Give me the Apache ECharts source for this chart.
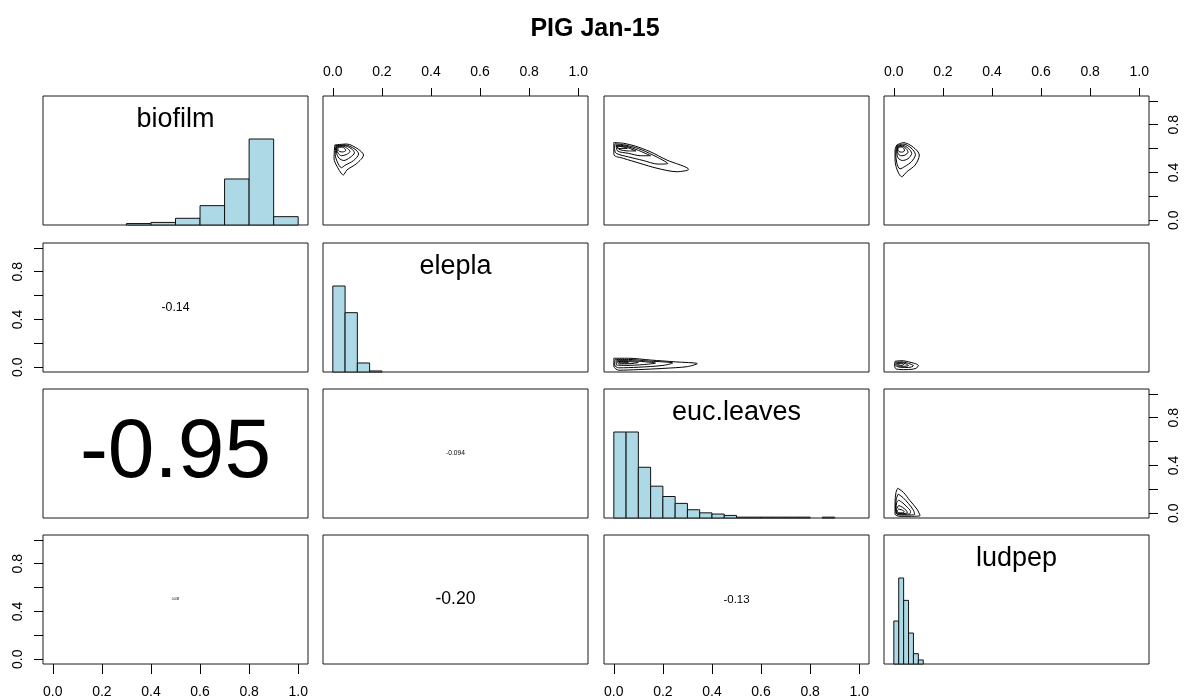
<!DOCTYPE html>
<html>
<head>
<meta charset="utf-8">
<title>PIG Jan-15</title>
<script src="https://cdn.jsdelivr.net/npm/echarts@6/dist/echarts.min.js"></script>
<style>
	html, body { margin: 0; padding: 0; background: #fff; }
	#pairs { width: 1190px; height: 700px; }
</style>
</head>
<body>
<div id="pairs"></div>
<script>
var varNames = ['biofilm', 'elepla', 'euc.leaves', 'ludpep'];
var axisTicks = [0, 0.2, 0.4, 0.6, 0.8, 1.0];
var xTickLabels = [0, 0.2, 0.4, 0.6, 0.8, 1.0];
var yTickLabels = [0, 0.4, 0.8];

// diagonal histograms: breaks and bar heights scaled so the tallest bar = 1
var biofilmBreaks = [0.3, 0.4, 0.5, 0.6, 0.7, 0.8, 0.9, 1.0];
var biofilmHeights = [0.017, 0.03, 0.078, 0.225, 0.535, 1.0, 0.097];
var eleplaBreaks = [0, 0.05, 0.1, 0.15, 0.2];
var eleplaHeights = [1.0, 0.69, 0.105, 0.012];
var eucBreaks = [0, 0.05, 0.1, 0.15, 0.2, 0.25, 0.3, 0.35, 0.4, 0.45, 0.5, 0.55, 0.6, 0.65, 0.7, 0.75, 0.8, 0.85, 0.9];
var eucHeights = [1.0, 1.0, 0.59, 0.37, 0.25, 0.17, 0.096, 0.06, 0.046, 0.03, 0.01, 0.01, 0.01, 0.01, 0.01, 0.01, 0, 0.01];
var ludpepBreaks = [0, 0.02, 0.04, 0.06, 0.08, 0.10, 0.12];
var ludpepHeights = [0.5, 1.0, 0.74, 0.36, 0.12, 0.047];

// lower panels: correlations (row, col order)
var corrLabels = ['-0.14', '-0.95', '-0.094', '0.038', '-0.20', '-0.13'];
var corrValues = [-0.14, -0.95, -0.094, 0.038, -0.20, -0.13];

// upper panels: density contour rings [x, y]
var eleplaBiofilm = [
	[[0.008,0.63],[0.057,0.638],[0.104,0.594],[0.125,0.546],[0.098,0.476],[0.057,0.42],[0.043,0.379],[0.018,0.448],[0.005,0.518]],
	[[0.012,0.625],[0.05,0.63],[0.09,0.595],[0.105,0.555],[0.085,0.5],[0.05,0.46],[0.035,0.44],[0.018,0.49],[0.01,0.55]],
	[[0.015,0.62],[0.045,0.625],[0.075,0.6],[0.088,0.565],[0.07,0.525],[0.045,0.5],[0.025,0.52],[0.015,0.57]],
	[[0.018,0.615],[0.04,0.62],[0.06,0.6],[0.07,0.575],[0.055,0.55],[0.035,0.54],[0.022,0.56],[0.017,0.59]],
	[[0.022,0.61],[0.038,0.612],[0.05,0.597],[0.052,0.582],[0.04,0.572],[0.028,0.575],[0.021,0.59]]
];
var eucBiofilm = [
	[[0,0.65],[0.039,0.644],[0.087,0.621],[0.148,0.574],[0.216,0.504],[0.305,0.426],[0.257,0.406],[0.176,0.435],[0.107,0.476],[0.039,0.518],[0.001,0.546],[0,0.602]],
	[[0.005,0.64],[0.045,0.63],[0.1,0.6],[0.16,0.545],[0.22,0.475],[0.18,0.47],[0.12,0.5],[0.06,0.53],[0.01,0.56],[0.003,0.6]],
	[[0.01,0.63],[0.05,0.62],[0.1,0.585],[0.15,0.54],[0.11,0.54],[0.06,0.56],[0.015,0.58]],
	[[0.012,0.625],[0.05,0.612],[0.09,0.58],[0.06,0.58],[0.02,0.595]],
	[[0.015,0.62],[0.04,0.612],[0.055,0.6],[0.03,0.6],[0.015,0.607]]
];
var ludpepBiofilm = [
	[[0.012,0.63],[0.039,0.65],[0.08,0.61],[0.104,0.546],[0.087,0.462],[0.053,0.406],[0.032,0.364],[0.014,0.42],[0.005,0.504],[0.005,0.588]],
	[[0.012,0.625],[0.038,0.638],[0.07,0.605],[0.088,0.55],[0.072,0.49],[0.045,0.45],[0.025,0.43],[0.012,0.48],[0.008,0.56]],
	[[0.014,0.62],[0.036,0.628],[0.06,0.6],[0.073,0.56],[0.058,0.515],[0.035,0.5],[0.018,0.52],[0.012,0.57]],
	[[0.016,0.615],[0.034,0.62],[0.05,0.6],[0.058,0.57],[0.045,0.545],[0.028,0.54],[0.017,0.56],[0.014,0.59]],
	[[0.018,0.61],[0.032,0.613],[0.042,0.598],[0.043,0.58],[0.032,0.57],[0.021,0.575],[0.017,0.59]]
];
var eucElepla = [
	[[0,0.075],[0.06,0.075],[0.15,0.06],[0.25,0.045],[0.34,0.03],[0.3,0.005],[0.2,-0.01],[0.1,-0.02],[0.02,-0.025],[0,0.01]],
	[[0.005,0.065],[0.06,0.065],[0.14,0.052],[0.24,0.035],[0.2,0.015],[0.1,0.0],[0.02,-0.005],[0.003,0.02]],
	[[0.01,0.055],[0.06,0.055],[0.13,0.045],[0.17,0.035],[0.12,0.022],[0.05,0.015],[0.01,0.02]],
	[[0.015,0.048],[0.06,0.047],[0.1,0.04],[0.07,0.03],[0.02,0.028]],
	[[0.02,0.043],[0.05,0.042],[0.06,0.037],[0.03,0.034]]
];
var ludpepElepla = [
	[[0.005,0.05],[0.03,0.055],[0.07,0.04],[0.1,0.015],[0.09,-0.01],[0.05,-0.02],[0.01,-0.015],[0.003,0.02]],
	[[0.008,0.042],[0.03,0.045],[0.06,0.032],[0.08,0.012],[0.06,-0.002],[0.025,0.0],[0.008,0.015]],
	[[0.012,0.036],[0.03,0.038],[0.05,0.027],[0.06,0.014],[0.04,0.008],[0.015,0.012]],
	[[0.016,0.032],[0.03,0.033],[0.04,0.024],[0.035,0.016],[0.018,0.02]]
];
var ludpepEuc = [
	[[0.016,0.21],[0.039,0.175],[0.066,0.105],[0.094,0.035],[0.107,-0.02],[0.066,-0.026],[0.025,-0.026],[0.005,-0.007],[0.005,0.09],[0.009,0.175]],
	[[0.018,0.16],[0.038,0.13],[0.06,0.08],[0.08,0.025],[0.085,-0.01],[0.05,-0.015],[0.015,-0.012],[0.007,0.04],[0.01,0.12]],
	[[0.02,0.11],[0.037,0.085],[0.055,0.05],[0.068,0.015],[0.065,-0.005],[0.035,-0.008],[0.012,-0.005],[0.009,0.04],[0.012,0.09]],
	[[0.02,0.065],[0.035,0.05],[0.05,0.025],[0.055,0.005],[0.035,-0.003],[0.015,0.0],[0.011,0.03]],
	[[0.02,0.035],[0.033,0.027],[0.043,0.012],[0.035,0.003],[0.018,0.004],[0.014,0.02]]
];

var histBreaks = [biofilmBreaks, eleplaBreaks, eucBreaks, ludpepBreaks];
var histHeights = [biofilmHeights, eleplaHeights, eucHeights, ludpepHeights];
var contours = {'0-1': eleplaBiofilm, '0-2': eucBiofilm, '0-3': ludpepBiofilm, '1-2': eucElepla, '1-3': ludpepElepla, '2-3': ludpepEuc};

var font = 'Liberation Sans, Arial, sans-serif';
var colLeft = [43, 323, 604, 884];
var rowTop = [96, 243, 389, 535];
var panelW = 265, panelH = 129;
var unitPx = panelW / 1.08;

// R-style cex for correlation text: width proportional to |r|
var ctx = document.createElement('canvas').getContext('2d');
ctx.font = '100px ' + font;
function corrFontSize(txt, r) {
	var w = ctx.measureText(txt).width / 100;
	return 0.82 * Math.abs(r) * unitPx / w;
}

function fmt(v) { return v.toFixed(1); }

var grids = [], xAxes = [], yAxes = [], series = [];
var corrIdx = 0;

for (var r = 0; r < 4; r++) {
	for (var c = 0; c < 4; c++) {
		var i = r * 4 + c;
		var diag = r === c;
		var xTop = r === 0 && c % 2 === 1;
		var xBottom = r === 3 && c % 2 === 0;
		var yLeft = c === 0 && r % 2 === 1;
		var yRight = c === 3 && r % 2 === 0;

		grids.push({
			left: colLeft[c], top: rowTop[r], width: panelW, height: panelH,
			show: true, borderColor: '#1a1a1a', borderWidth: 1,
			outerBoundsMode: 'none'
		});
		xAxes.push({
			gridIndex: i, type: 'value', position: r === 0 ? 'top' : 'bottom',
			min: -0.04, max: 1.04,
			axisLine: {show: false, onZero: false},
			splitLine: {show: false},
			axisTick: {show: xTop || xBottom, length: xTop ? 8 : 10, customValues: axisTicks, lineStyle: {color: '#000', width: 1}},
			axisLabel: {show: xTop || xBottom, customValues: xTickLabels, formatter: fmt, fontSize: 14, color: '#000', fontFamily: font, margin: xTop ? 17 : 21}
		});
		yAxes.push({
			gridIndex: i, type: 'value', position: c === 0 ? 'left' : 'right',
			min: diag ? 0 : -0.04, max: diag ? 1.5 : 1.04,
			axisLine: {show: false, onZero: false},
			splitLine: {show: false},
			axisTick: {show: yLeft || yRight, length: 9, customValues: axisTicks, lineStyle: {color: '#000', width: 1}},
			axisLabel: {show: yLeft || yRight, customValues: yTickLabels, formatter: fmt, rotate: 90, fontSize: 14, color: '#000', fontFamily: font, margin: 18}
		});

		if (diag) {
			var b = histBreaks[r], h = histHeights[r], bars = [];
			for (var k = 0; k < h.length; k++) {
				if (h[k] > 0) bars.push([b[k], b[k + 1], h[k]]);
			}
			series.push({
				type: 'custom', xAxisIndex: i, yAxisIndex: i,
				data: bars,
				encode: {x: [0, 1], y: 2},
				renderItem: function (params, api) {
					var p0 = api.coord([api.value(0), 0]);
					var p1 = api.coord([api.value(1), api.value(2)]);
					return {
						type: 'rect',
						shape: {x: p0[0], y: p1[1], width: p1[0] - p0[0], height: p0[1] - p1[1]},
						style: {fill: '#ADD8E6', stroke: '#111', lineWidth: 1}
					};
				}
			});
			series.push({
				type: 'scatter', xAxisIndex: i, yAxisIndex: i,
				data: [[0.5, 1.23]], symbolSize: 1, itemStyle: {color: 'rgba(0,0,0,0)', opacity: 1},
				label: {show: true, position: 'inside', formatter: varNames[r], fontSize: 27, color: '#000', fontFamily: font}
			});
		} else if (r < c) {
			var rings = contours[r + '-' + c];
			rings.forEach(function (ring) {
				series.push({
					type: 'line', xAxisIndex: i, yAxisIndex: i,
					data: ring.concat([ring[0]]),
					showSymbol: false, symbol: 'none', smooth: 0.3,
					lineStyle: {color: '#000', width: 1}
				});
			});
		} else {
			var txt = corrLabels[corrIdx], rv = corrValues[corrIdx];
			corrIdx++;
			series.push({
				type: 'scatter', xAxisIndex: i, yAxisIndex: i,
				data: [[0.5, 0.5]], symbolSize: 1, itemStyle: {color: 'rgba(0,0,0,0)', opacity: 1},
				label: {show: true, position: 'inside', formatter: txt, fontSize: corrFontSize(txt, rv), color: '#000', fontFamily: font}
			});
		}
	}
}

var option = {
	animation: false,
	backgroundColor: '#fff',
	title: {
		text: 'PIG Jan-15', left: 'center', top: 12,
		textStyle: {fontSize: 25, fontWeight: 'bold', color: '#000', fontFamily: font}
	},
	grid: grids,
	xAxis: xAxes,
	yAxis: yAxes,
	series: series
};

var myChart = echarts.init(document.getElementById('pairs'));
myChart.setOption(option);
</script>
</body>
</html>
